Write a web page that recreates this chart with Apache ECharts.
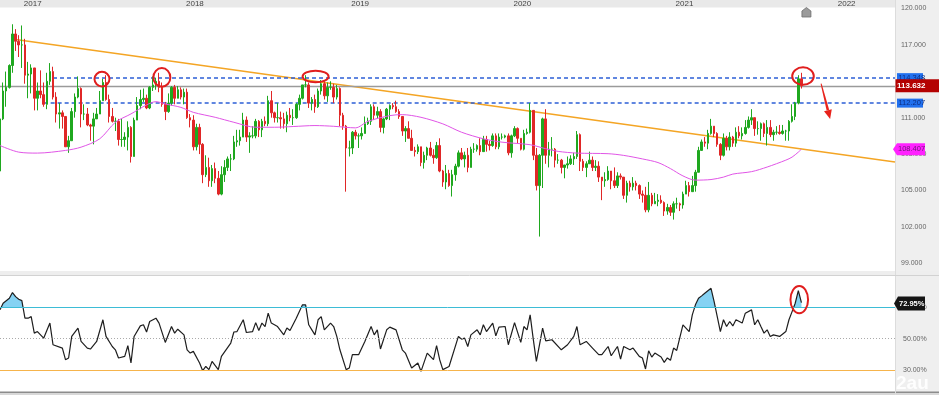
<!DOCTYPE html>
<html><head><meta charset="utf-8">
<script src="https://cdn.jsdelivr.net/npm/echarts@6/dist/echarts.min.js"></script>
<style>html,body{margin:0;padding:0;background:#fff}#c{width:939px;height:395px}</style>
</head><body><div id="c"></div>
<script>
// ---- weekly candles [open, high, low, close], weeks starting 2016-11-14 ----
const candles2016 = [
[106.6,111.0,106.6,110.9],[110.9,113.9,110.8,113.2],[113.2,114.8,111.9,113.5],[113.5,115.4,113.4,115.3],
[115.3,118.7,114.7,117.9],[117.9,118.3,116.5,117.3],[117.3,117.8,116.0,117.0]];
const candles2017 = [
[117.0,118.6,115.1,117.0],[117.0,117.5,113.8,114.5],[114.5,115.6,112.6,114.6],[114.6,115.4,113.0,115.1],
[115.1,115.1,111.6,112.6],[112.6,113.9,111.6,113.2],[113.2,114.9,112.6,112.9],[112.9,113.9,111.9,112.1],
[112.1,114.7,111.7,114.0],[114.0,115.5,113.7,114.8],[114.8,115.2,112.5,112.7],[112.7,113.1,110.6,111.3],
[111.3,112.2,110.1,111.4],[111.4,111.6,110.1,111.1],[111.1,111.1,108.6,108.6],[108.6,109.5,108.1,109.1],
[109.1,111.8,109.1,111.5],[111.5,113.0,111.0,112.7],[112.7,114.4,112.6,113.4],[113.4,113.5,110.2,111.3],
[111.3,112.1,110.8,111.3],[111.3,111.8,110.3,110.4],[110.4,110.5,109.1,110.3],[110.3,111.4,108.8,110.9],
[110.9,111.8,110.9,111.3],[111.3,113.2,111.3,112.4],[112.4,114.2,112.4,113.9],[113.9,114.5,112.4,112.5],
[112.5,112.9,110.6,111.1],[111.1,111.8,110.6,110.7],[110.7,111.0,109.9,110.7],[110.7,110.9,108.7,109.2],
[109.2,110.9,108.6,109.2],[109.2,109.8,108.6,109.4],[109.4,110.7,108.3,110.2],[110.2,110.3,107.3,107.8],
[107.8,111.0,107.8,110.8],[110.8,112.7,110.8,112.0],[112.0,113.3,111.7,112.5],[112.5,113.4,112.3,112.6],
[112.6,112.9,111.7,111.8],[111.8,113.6,111.7,113.5],[113.5,114.4,113.2,113.7],[113.7,114.3,113.3,114.0],
[114.0,114.7,113.1,113.5],[113.5,113.9,111.9,112.1],[112.1,112.3,110.8,111.5],[111.5,113.0,111.4,112.2],
[112.2,113.6,112.0,113.5],[113.5,113.7,112.1,112.6],[112.6,113.6,112.6,113.3],[113.3,113.5,112.5,112.7]];
const candles2018 = [
[112.7,113.4,112.1,113.1],[113.1,113.4,110.9,111.0],[111.0,111.3,110.2,110.8],[110.8,111.2,108.3,108.6],
[108.6,110.5,108.3,110.2],[110.2,110.5,108.0,108.8],[108.8,108.9,105.6,106.3],[106.3,107.9,106.1,106.9],
[106.9,107.7,105.3,105.8],[105.8,107.1,105.3,106.8],[106.8,107.3,105.6,106.0],[106.0,106.6,104.6,104.7],
[104.7,107.0,104.6,106.3],[106.3,107.5,105.7,106.9],[106.9,107.8,106.6,107.6],[107.6,108.0,106.6,107.6],
[107.6,109.5,107.5,109.0],[109.0,110.0,108.6,109.1],[109.1,110.0,108.7,109.4],[109.4,111.4,109.4,110.8],
[110.8,111.1,109.0,109.4],[109.4,109.8,108.1,109.5],[109.5,110.3,109.3,109.5],[109.5,110.9,109.3,110.7],
[110.7,110.8,109.4,110.0],[110.0,110.9,109.4,110.7],[110.7,111.1,110.3,110.5],[110.5,112.8,110.3,112.4],
[112.4,113.2,111.0,111.4],[111.4,111.5,110.6,111.0],[111.0,112.2,110.6,111.0],[111.0,111.5,110.1,110.9],
[110.9,111.4,110.1,110.5],[110.5,111.5,109.8,111.2],[111.2,111.8,110.7,111.0],[111.0,111.7,110.4,111.0],
[111.0,112.2,110.9,112.1],[112.1,112.9,111.6,112.6],[112.6,113.7,112.5,113.7],[113.7,114.5,113.5,113.7],
[113.7,113.9,111.8,112.2],[112.2,112.7,111.6,112.5],[112.5,112.9,111.4,111.9],[111.9,113.4,111.8,113.2],
[113.2,114.1,112.9,113.8],[113.8,114.0,112.5,112.8],[112.8,113.9,112.3,113.5],[113.5,114.0,113.3,113.5],
[113.5,113.8,112.2,112.7],[112.7,113.7,112.5,113.4],[113.4,113.5,110.3,111.2],[111.2,111.4,110.0,110.3]];
const candles2019 = [
[110.3,110.4,104.9,108.5],[108.5,109.1,107.8,108.5],[108.5,109.9,108.0,109.8],[109.8,110.0,109.2,109.5],
[109.5,109.7,108.5,109.5],[109.5,110.2,109.2,109.7],[109.7,111.1,109.7,110.5],[110.5,111.0,110.4,110.7],
[110.7,112.1,110.4,111.9],[111.9,112.1,110.8,111.2],[111.2,111.9,110.9,111.5],[111.5,111.7,109.8,110.2],
[110.2,111.0,109.7,110.9],[110.9,111.8,110.8,111.7],[111.7,112.1,110.8,112.0],[112.0,112.2,111.7,111.9],
[111.9,112.4,111.4,111.5],[111.5,111.7,110.9,111.1],[111.1,111.1,109.5,109.9],[109.9,110.3,109.0,110.1],
[110.1,110.7,109.3,109.3],[109.3,110.0,108.3,108.3],[108.3,108.6,107.8,108.2],[108.2,108.8,108.0,108.6],
[108.6,108.6,107.0,107.3],[107.3,108.2,106.8,107.9],[107.9,108.6,107.5,108.5],[108.5,109.0,107.8,107.9],
[107.9,108.4,107.2,107.7],[107.7,109.0,107.6,108.7],[108.7,109.3,106.5,106.6],[106.6,106.7,105.3,105.7],
[105.7,107.1,105.1,106.4],[106.4,106.7,105.3,105.4],[105.4,106.7,104.5,106.3],[106.3,107.2,105.8,107.0],
[107.0,108.3,106.9,108.1],[108.1,108.5,107.5,107.6],[107.6,108.2,106.9,107.9],[107.9,108.5,106.5,106.9],
[106.9,108.6,106.9,108.4],[108.4,108.9,108.1,108.4],[108.4,108.8,108.2,108.7],[108.7,109.3,107.9,108.2],
[108.2,109.5,108.2,109.2],[109.2,109.5,108.2,108.8],[108.8,109.1,108.3,108.7],[108.7,109.7,108.6,109.5],
[109.5,109.7,108.4,108.6],[108.6,109.7,108.4,109.4],[109.4,109.7,109.2,109.4],[109.4,109.6,109.3,109.5],
[109.5,109.7,107.9,108.1]];
const candles2020 = [
[108.1,109.6,107.7,109.5],[109.5,110.3,109.4,110.1],[110.1,110.2,108.9,109.3],[109.3,109.3,108.3,108.4],
[108.4,110.0,108.3,109.7],[109.7,110.1,109.6,109.8],[109.8,112.2,109.7,111.6],[111.6,111.6,107.5,107.9],
[107.9,108.5,105.0,105.4],[105.4,108.0,101.2,107.9],[107.9,111.0,105.2,110.9],[110.9,111.7,107.2,107.9],
[107.9,109.0,106.9,108.4],[108.4,109.4,107.8,108.4],[108.4,108.5,106.9,107.5],[107.5,108.0,107.2,107.5],
[107.5,107.6,106.4,106.9],[106.9,107.0,106.0,107.1],[107.1,107.8,106.8,107.2],[107.2,107.9,107.1,107.6],
[107.6,108.1,107.1,107.8],[107.8,109.9,107.6,109.6],[109.6,109.7,106.6,107.4],[107.4,107.6,106.6,106.9],
[106.9,107.4,106.1,107.2],[107.2,108.2,107.2,107.5],[107.5,107.8,106.6,106.9],[106.9,107.5,106.6,107.0],
[107.0,107.4,105.7,106.1],[106.1,106.1,104.2,105.8],[105.8,106.5,105.3,105.9],[105.9,107.0,105.8,106.6],
[106.6,106.6,105.1,105.8],[105.8,106.9,105.2,105.4],[105.4,106.5,105.2,106.2],[106.2,106.4,105.9,106.1],
[106.1,106.1,104.3,104.6],[104.6,105.8,104.0,105.6],[105.6,105.8,104.9,105.3],[105.3,106.1,105.0,105.6],
[105.6,105.8,105.0,105.4],[105.4,105.5,104.3,104.7],[104.7,105.0,104.0,104.6],[104.6,105.3,103.2,103.4],
[103.4,105.7,103.2,104.6],[104.6,104.8,103.7,103.9],[103.9,104.8,103.9,104.1],[104.1,104.7,103.7,104.2],
[104.2,104.6,103.9,104.0],[104.0,104.1,102.9,103.3],[103.3,103.9,103.0,103.6],[103.6,103.8,102.9,103.2]];
const candles2021 = [
[103.2,104.1,102.6,103.9],[103.9,104.4,103.5,103.9],[103.9,104.0,103.3,103.8],[103.8,104.9,103.5,104.7],
[104.7,105.8,104.7,105.4],[105.4,105.7,104.5,104.9],[104.9,106.2,104.9,105.4],[105.4,106.7,104.9,106.5],
[106.5,108.6,106.5,108.3],[108.3,109.2,108.3,109.0],[109.0,109.4,108.6,108.9],[108.9,110.0,108.4,109.7],
[109.7,110.9,109.6,110.3],[110.3,110.3,109.4,109.7],[109.7,109.8,108.6,108.8],[108.8,108.9,107.5,107.9],
[107.9,109.7,107.8,109.3],[109.3,109.5,108.3,108.6],[108.6,109.8,108.3,109.4],[109.4,109.5,108.6,108.9],
[108.9,110.2,108.6,109.8],[109.8,110.3,109.3,109.5],[109.5,110.2,109.2,109.7],[109.7,110.8,109.6,110.2],
[110.2,111.1,110.1,110.8],[110.8,111.7,110.4,111.0],[111.0,111.0,109.5,110.1],[110.1,110.7,109.6,110.1],
[110.1,110.6,109.1,110.5],[110.5,110.6,109.4,109.7],[109.7,110.8,108.7,110.2],[110.2,110.8,109.4,109.6],
[109.6,110.0,109.1,109.8],[109.8,110.3,109.6,109.8],[109.8,110.4,109.6,109.7],[109.7,110.4,109.6,109.9],
[109.9,110.0,109.1,109.9],[109.9,110.8,109.1,110.7],[110.7,112.1,110.6,111.1],[111.1,112.3,110.8,112.2],
[112.2,114.5,112.1,114.2],[114.2,114.7,113.4,113.632]];

// moving average: [week index, value]
const maPoints = [[0,108.7],[6,108.16],[12,108.08],[21,108.3],[26,108.57],[32,109.26],[37,110.62],[42,111.31],
[47,112.05],[50,112.32],[53,112.13],[58,111.85],[62,111.44],[69,111.03],[75,110.62],[82,110.21],[88,110.21],
[94,110.27],[101,110.35],[107,110.29],[114,110.16],[118,110.7],[125,111.17],[129,111.25],[135,111.03],
[142,110.49],[148,109.8],[155,109.26],[161,108.98],[170,108.77],[175,108.44],[179,108.22],[185,108.08],
[195,108.03],[200,107.89],[206,107.6],[211,107.3],[215,106.8],[219,106.2],[223,105.85],[228,105.9],
[232,106.1],[235,106.35],[241,106.55],[246,106.93],[252,107.5],[254,107.75],[256,108.16],[257,108.407]];

// RSI: [week index, value]
const rsiPoints = [[0,68.3],[1,72.5],[3,75.7],[4,79.3],[5,76.7],[6,75.1],[7,74.2],[8,63],[9,63],[10,64],[11,53.5],
[12,54.5],[14,50.3],[16,59.9],[17,46.1],[20,44],[21,36.6],[22,37.7],[23,51.4],[25,56.7],[26,48.2],[28,44],[29,43.4],
[31,48.2],[33,62],[34,51.4],[36,45],[37,42.9],[38,37.7],[40,38.7],[41,45.5],[42,34.5],[43,51.4],[45,58.1],[46,58.8],
[47,54.2],[48,60.9],[50,63],[51,59.9],[53,47.6],[55,57.7],[56,53.5],[57,56],[59,52.4],[60,42.9],[61,40.8],[62,41.9],
[64,34.5],[65,29.6],[66,32.3],[67,30.3],[68,35.5],[70,30.3],[71,38.7],[74,47.2],[75,54.2],[76,54.5],[78,62],[79,53.9],
[81,54.5],[82,60.2],[83,55.2],[84,59.9],[85,57.7],[86,66.2],[87,59.9],[89,57.7],[91,52.4],[92,56.7],[93,55.2],[95,63],
[97,71.5],[98,71.5],[99,58.8],[100,55.6],[101,52.4],[102,62],[103,64],[104,55.6],[106,59.9],[107,57.7],[108,51.4],
[109,42.9],[111,30.3],[112,31.3],[113,39.8],[115,39.8],[117,48.2],[119,57.7],[120,52.4],[121,55.6],[122,43.4],
[124,55.6],[125,57.3],[127,55.6],[129,42.9],[130,40.8],[132,31.3],[134,34.5],[135,29.2],[137,40.8],[139,36.6],
[140,45.5],[141,36.6],[142,30.3],[144,32.3],[147,51.4],[148,49.7],[149,50.3],[150,45],[151,52.4],[153,55.6],
[154,52.4],[155,58.8],[156,54.5],[158,59.9],[159,51.8],[160,57.3],[162,57.7],[163,46.1],[165,60.2],[167,47.6],
[168,57.7],[169,55.6],[170,65.1],[171,49.7],[172,35.5],[174,56.7],[175,48.6],[177,49.3],[180,42.9],[182,46.1],
[184,51.4],[185,57.7],[186,46.1],[188,48.2],[190,44],[192,39.8],[193,39.8],[195,45],[196,39.1],[198,45],[199,37],
[200,45],[202,42.9],[203,44],[205,38.7],[206,37.7],[207,30.7],[208,42.3],[209,38.3],[210,40.8],[212,38.3],
[213,34.9],[214,37.7],[215,36.2],[216,44],[217,42.5],[219,58.8],[221,54.5],[222,65.1],[223,71.5],[224,75.7],
[225,77.2],[226,78.9],[228,82],[229,73.5],[230,64],[231,54.5],[232,62],[233,57.7],[234,60.9],[235,58.1],[236,62],
[238,59.9],[239,66.2],[241,68.3],[242,58.8],[243,62],[244,57.7],[245,53.5],[246,55.6],[247,51.4],[248,52.4],
[250,51.4],[252,54.5],[253,62],[254,67.2],[255,72.5],[256,80.5],[257,72.95]];

// reference lines
const trendLine = [[5,117.45],[287,107.34]];
const resistUpper = {from:17, value:114.3, label:'114.348'};
const resistLower = {from:14, value:112.2, label:'112.207'};
const lastPrice = 113.632;
const maLast = 108.407;
const rsiLast = 72.95;
const rsiLevels = {upper:70, mid:50, lower:30};

// tick labels
const yearLabels = ['2017','2018','2019','2020','2021','2022'];
const priceTicks = [99,102,105,108,111,114,117,120];
const rsiTicks = [30,50,70];

// annotations [week index, value, rx, ry]
const priceCircles = [[32.7,114.18,7.5,7.3],[51.9,114.32,8.5,9.3],[101.2,114.39,13,5.8],[257.5,114.43,10.8,8.7]];
const rsiCircle = [256.3,74.8,8.8,13.7];
const arrowFromTo = [[263.3,113.8],[266.2,110.9]];

// ---- build ----
const NCAT = 288;
const categories = [];
const t0 = Date.UTC(2016,10,14);
for (let i=0;i<NCAT;i++){ categories.push(new Date(t0 + i*7*86400000).toISOString().slice(0,10)); }
const yearStarts = [];
for (let i=1;i<NCAT;i++){ if (categories[i].slice(0,4)!==categories[i-1].slice(0,4)) yearStarts.push(i); }

const allCandles = [].concat(candles2016,candles2017,candles2018,candles2019,candles2020,candles2021);
const kData = allCandles.map(c => [c[0], c[3], c[2], c[1]]);

const UP='#1fa81f', DOWN='#e02727';
const chart = echarts.init(document.getElementById('c'), null, {renderer:'canvas'});
const FONT = 'Liberation Sans, Arial, sans-serif';

chart.setOption({
  animation:false,
  backgroundColor:'transparent',
  grid:[
    {left:0, right:44, top:7.5, height:263.5},
    {left:0, right:44, top:276, height:115}
  ],
  xAxis:[
    {type:'category', gridIndex:0, data:categories, boundaryGap:false, position:'top',
     axisLine:{show:false}, axisTick:{show:false}, splitLine:{show:false},
     axisLabel:{interval:(i)=>yearStarts.indexOf(i)>=0,
       formatter:(v,i)=>yearLabels[yearStarts.indexOf(i)]||'',
       align:'left', padding:[0,0,0,2], margin:0.5, fontSize:8, color:'#444', fontFamily:FONT}},
    {type:'category', gridIndex:1, data:categories, boundaryGap:false, show:false}
  ],
  yAxis:[
    {type:'value', gridIndex:0, position:'right', min:98.36, max:120, scale:true,
     axisLine:{show:false}, axisTick:{show:false}, splitLine:{show:false},
     axisLabel:{customValues:priceTicks, formatter:v=>v.toFixed(3), fontSize:7, color:'#666', margin:6, fontFamily:FONT}},
    {type:'value', gridIndex:1, position:'right', min:16.69, max:89.84,
     axisLine:{show:false}, axisTick:{show:false}, splitLine:{show:false},
     axisLabel:{customValues:rsiTicks, formatter:v=>v.toFixed(2)+'%', fontSize:7, color:'#666', margin:8, fontFamily:FONT}}
  ],
  visualMap:[{type:'piecewise', show:false, seriesIndex:2, dimension:1,
    pieces:[{min:rsiLevels.upper, max:100, color:'#85d2f3'},{min:0, max:rsiLevels.upper, color:'rgba(255,255,255,0)'}]}],
  series:[
    {type:'candlestick', xAxisIndex:0, yAxisIndex:0, data:kData, barWidth:2, z:3,
     itemStyle:{color:UP, color0:DOWN, borderColor:UP, borderColor0:DOWN, borderWidth:1},
     markLine:{silent:true, symbol:['none','none'], label:{show:false}, animation:false, z:2,
       data:[
        [{coord:trendLine[0], lineStyle:{color:'#f4a524', width:1.6, type:'solid'}},{coord:trendLine[1]}],
        [{coord:[resistUpper.from,resistUpper.value], lineStyle:{color:'#2d5fd6', width:1.5, type:[4,3]}},{coord:[NCAT-1,resistUpper.value]}],
        [{coord:[resistLower.from,resistLower.value], lineStyle:{color:'#2d5fd6', width:1.5, type:[4,3]}},{coord:[NCAT-1,resistLower.value]}],
        {yAxis:lastPrice, lineStyle:{color:'#9a9a9a', width:1.3, type:'solid'}}
       ]}},
    {type:'line', xAxisIndex:0, yAxisIndex:0, data:maPoints, symbol:'none', smooth:0.3, z:4,
     lineStyle:{color:'#e055e6', width:1}},
    {type:'line', xAxisIndex:1, yAxisIndex:1, data:rsiPoints, symbol:'none', z:1,
     lineStyle:{width:0, opacity:0}, areaStyle:{opacity:1}},
    {type:'line', xAxisIndex:1, yAxisIndex:1, data:rsiPoints, symbol:'none', z:4,
     lineStyle:{color:'#1e1e1e', width:1.2},
     markLine:{silent:true, symbol:['none','none'], label:{show:false}, animation:false,
       data:[
        {yAxis:rsiLevels.upper, lineStyle:{color:'#3dbcd6', width:1, type:'solid'}},
        {yAxis:rsiLevels.mid, lineStyle:{color:'#aaaaaa', width:1, type:[1,2]}},
        {yAxis:rsiLevels.lower, lineStyle:{color:'#f6b44c', width:1, type:'solid'}}
       ]}}
  ]
});

// ---- annotations ----
function yP(v){ return chart.convertToPixel({yAxisIndex:0}, v); }
function yR(v){ return chart.convertToPixel({yAxisIndex:1}, v); }
function xP(i){ const i0=Math.floor(i); const a=chart.convertToPixel({xAxisIndex:0}, i0); const b=chart.convertToPixel({xAxisIndex:0}, i0+1); return a+(b-a)*(i-i0); }

const g = [];
// backgrounds
g.push({type:'rect', z:-10, shape:{x:0,y:0,width:939,height:7.5}, style:{fill:'#e9e9e9'}});
g.push({type:'rect', z:-10, shape:{x:895,y:0,width:44,height:395}, style:{fill:'#efefef'}});
g.push({type:'line', z:-9, shape:{x1:895.5,y1:0,x2:895.5,y2:395}, style:{stroke:'#dcdcdc', lineWidth:1}});
g.push({type:'rect', z:-10, shape:{x:0,y:271,width:939,height:4.5}, style:{fill:'#eeeeee'}});
g.push({type:'line', z:-9, shape:{x1:0,y1:275.5,x2:939,y2:275.5}, style:{stroke:'#d2d2d2', lineWidth:1}});
g.push({type:'rect', z:-10, shape:{x:0,y:391.5,width:939,height:1.6}, style:{fill:'#8c8c8c'}});
g.push({type:'rect', z:-10, shape:{x:0,y:393.1,width:939,height:2}, style:{fill:'#d8d8d8'}});

// circles
priceCircles.forEach(c => {
  g.push({type:'ellipse', z:50, shape:{cx:xP(c[0]), cy:yP(c[1]), rx:c[2], ry:c[3]}, style:{fill:'none', stroke:'#e01e1e', lineWidth:2}});
});
g.push({type:'ellipse', z:50, shape:{cx:xP(rsiCircle[0]), cy:yR(rsiCircle[1]), rx:rsiCircle[2], ry:rsiCircle[3]}, style:{fill:'none', stroke:'#e01e1e', lineWidth:2}});

// red arrow
(function(){
  const x1=xP(arrowFromTo[0][0]), y1=yP(arrowFromTo[0][1]);
  const x2=xP(arrowFromTo[1][0]), y2=yP(arrowFromTo[1][1]);
  const dx=x2-x1, dy=y2-y1, L=Math.sqrt(dx*dx+dy*dy), ux=dx/L, uy=dy/L, nx=-uy, ny=ux;
  const hb=[x2-ux*9, y2-uy*9];
  g.push({type:'polygon', z:50, shape:{points:[[x1+nx*0.5,y1+ny*0.5],[x1-nx*0.5,y1-ny*0.5],[hb[0]-nx*1.3,hb[1]-ny*1.3],[hb[0]+nx*1.3,hb[1]+ny*1.3]]}, style:{fill:'#e8231c'}});
  g.push({type:'polygon', z:50, shape:{points:[[x2,y2],[hb[0]+nx*4,hb[1]+ny*4],[hb[0]-nx*4,hb[1]-ny*4]]}, style:{fill:'#e8231c'}});
})();

// house marker at the top
(function(){
  const cx = xP(258.6);
  g.push({type:'polygon', z:50, shape:{points:[[cx-4.5,17],[cx-4.5,11],[cx,7.5],[cx+4.5,11],[cx+4.5,17]]}, style:{fill:'#9b9b9b', stroke:'#6f6f6f', lineWidth:0.8}});
})();

// axis tags
function boxTag(y, text, fill, color, x, w, h, bold){
  g.push({type:'rect', z:60, shape:{x:x, y:y-h/2, width:w, height:h}, style:{fill:fill}});
  g.push({type:'text', z:61, style:{x:x+1.5, y:y, text:text, fill:color, font:(bold?'bold ':'')+'7.5px '+FONT, verticalAlign:'middle', align:'left'}});
}
function arrowTag(y, text, fill, color, tipX, x0, x1, h, bold, fs){
  g.push({type:'polygon', z:60, shape:{points:[[tipX,y],[x0,y-h/2],[x1,y-h/2],[x1,y+h/2],[x0,y+h/2]]}, style:{fill:fill}});
  g.push({type:'text', z:61, style:{x:x0+1, y:y, text:text, fill:color, font:(bold?'bold ':'')+fs+'px '+FONT, verticalAlign:'middle', align:'left'}});
}
boxTag(yP(resistUpper.value), resistUpper.label, '#2170ee', '#0c2d80', 897, 26, 9, false);
boxTag(yP(resistLower.value), resistLower.label, '#2170ee', '#0c2d80', 897, 26, 9, false);
g.push({type:'rect', z:62, shape:{x:895.5, y:yP(lastPrice)-6.5, width:43.5, height:13}, style:{fill:'#b40202'}});
g.push({type:'text', z:63, style:{x:897, y:yP(lastPrice), text:lastPrice.toFixed(3), fill:'#ffffff', font:'bold 8px '+FONT, verticalAlign:'middle', align:'left'}});
arrowTag(yP(maLast), maLast.toFixed(3), '#ff22ff', '#6b1a72', 893, 897, 925, 12, false, 7.5);
arrowTag(yR(rsiLast)+1, rsiLast.toFixed(2)+'%', '#151515', '#ffffff', 894, 898, 925, 14, true, 7.5);

// watermark
g.push({type:'text', z:70, style:{x:896, y:384, text:'2au', fill:'rgba(255,255,255,0.9)', font:'bold 19px '+FONT, verticalAlign:'middle', align:'left'}});

chart.setOption({graphic:{elements:g}});
</script>
</body></html>
